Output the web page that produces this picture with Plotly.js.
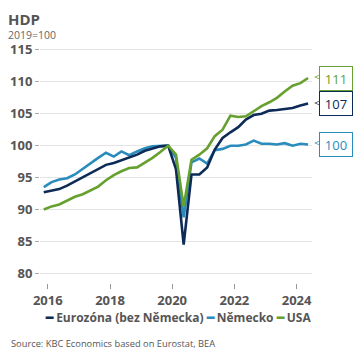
<!DOCTYPE html>
<html>
<head>
<meta charset="utf-8">
<script src="https://cdn.plot.ly/plotly-3.0.1.min.js"></script>
<style>
html,body{margin:0;padding:0;background:#fff;}
#chart{width:360px;height:360px;}
</style>
</head>
<body>
<div id="chart"></div>
<script>
// Quarters 2015Q4 .. 2024Q2
const quarters = ["2015Q4",
  "2016Q1","2016Q2","2016Q3","2016Q4",
  "2017Q1","2017Q2","2017Q3","2017Q4",
  "2018Q1","2018Q2","2018Q3","2018Q4",
  "2019Q1","2019Q2","2019Q3","2019Q4",
  "2020Q1","2020Q2","2020Q3","2020Q4",
  "2021Q1","2021Q2","2021Q3","2021Q4",
  "2022Q1","2022Q2","2022Q3","2022Q4",
  "2023Q1","2023Q2","2023Q3","2023Q4",
  "2024Q1","2024Q2"];

const eurozone = [92.7, 93.0, 93.2, 93.75, 94.4, 95.1, 95.7, 96.4, 97.0, 97.3, 97.7, 98.1, 98.6, 99.2, 99.6, 99.9, 100.0,
  96.3, 84.5, 95.5, 95.5, 96.6, 99.4, 101.2, 102.1, 102.9, 104.1, 104.8, 105.0, 105.5, 105.6, 105.8, 105.9, 106.3, 106.6];
const germany = [93.5, 94.3, 94.7, 94.9, 95.5, 96.4, 97.3, 98.1, 98.9, 98.3, 99.1, 98.5, 99.1, 99.6, 99.9, 100.0, 100.0,
  98.1, 88.8, 97.4, 98.0, 97.2, 99.3, 99.5, 100.0, 100.0, 100.2, 100.8, 100.3, 100.3, 100.2, 100.4, 100.0, 100.3, 100.2];
const usa = [90.0, 90.5, 90.8, 91.4, 92.0, 92.4, 93.0, 93.6, 94.6, 95.4, 96.0, 96.5, 96.6, 97.3, 98.1, 99.0, 100.0,
  98.6, 90.5, 97.8, 98.6, 99.6, 101.5, 102.5, 104.7, 104.5, 104.6, 105.4, 106.2, 106.8, 107.5, 108.5, 109.4, 109.8, 110.6];

const seriesNames = ["Eurozóna (bez Německa)", "Německo", "USA"];
const yTicks = [80, 85, 90, 95, 100, 105, 110, 115];
const xTicks = ["2016-01-01", "2018-01-01", "2020-01-01", "2022-01-01", "2024-01-01"];
const xTickText = ["2016", "2018", "2020", "2022", "2024"];

const colors = ["#0d2b57", "#2a8bbd", "#66a02e"];
const FONT = "'Open Sans', 'Noto Sans', sans-serif";

// mid-quarter date
const dates = quarters.map(q => {
  const y = q.slice(0, 4), n = +q.slice(5);
  const m = (n - 1) * 3 + 2;
  return y + "-" + String(m).padStart(2, "0") + "-15";
});

const allSeries = [eurozone, germany, usa];
const traces = allSeries.map((s, i) => ({
  x: dates, y: s, type: "scatter", mode: "lines", name: seriesNames[i],
  line: {color: colors[i], width: 2.6}, hoverinfo: "skip"
}));
const order = [1, 0, 2];
const data = order.map(i => traces[i]);

const annotations = [];
// end labels (callouts)
allSeries.forEach((s, i) => {
  const last = s[s.length - 1];
  annotations.push({
    x: dates[dates.length - 1], y: last, xref: "x", yref: "y",
    text: "<", showarrow: false,
    xanchor: "left", yanchor: "middle", xshift: 3, yshift: 1,
    font: {family: "DejaVu Sans", size: 15, color: colors[i], weight: 300}
  });
  annotations.push({
    x: dates[dates.length - 1], y: last, xref: "x", yref: "y",
    text: String(Math.round(last)), showarrow: false,
    xanchor: "left", yanchor: "middle", xshift: 11,
    font: {family: FONT, size: 13, color: colors[i]},
    bgcolor: "#ffffff", bordercolor: colors[i], borderwidth: 1, borderpad: 2,
    width: 28, height: 19
  });
});

const px = (xp, yp) => ({xref: "paper", yref: "paper", x: 0, y: 1, xanchor: "left", yanchor: "top",
  xshift: xp - 40, yshift: 48 - yp, showarrow: false});

annotations.push(Object.assign(px(6, 7), {text: "<b>HDP</b>",
  font: {family: FONT, size: 15, color: "#555555"}}));
annotations.push(Object.assign(px(6, 26), {text: "2019=100",
  font: {family: FONT, size: 10.5, color: "#666666"}}));

const dash = c => `<span style="color:${c}"><b>━</b></span>`;
const legendText = seriesNames.map((n, i) => dash(colors[i]) + " <b>" + n + "</b>").join(" ");
annotations.push({xref: "paper", yref: "paper", x: 0.5, y: 0, xanchor: "center", yanchor: "middle",
  yshift: -(317 - 283), xshift: 2,
  text: legendText, showarrow: false, font: {family: FONT, size: 12, color: "#555555"}});
annotations.push({xref: "paper", yref: "paper", x: 0, y: 0, xanchor: "left", yanchor: "middle",
  yshift: -(343 - 283), xshift: -31,
  text: "Source: KBC Economics based on Eurostat, BEA", showarrow: false,
  font: {family: FONT, size: 9.3, color: "#555555"}});

const layout = {
  width: 360, height: 360,
  margin: {l: 40, r: 48, t: 48, b: 77},
  paper_bgcolor: "#ffffff", plot_bgcolor: "#ffffff",
  showlegend: false,
  font: {family: FONT, color: "#555555"},
  xaxis: {
    type: "date", range: ["2015-10-02", "2024-06-30"],
    tickvals: xTicks, ticktext: xTickText,
    showgrid: false, zeroline: false, showline: false,
    ticks: "outside", ticklen: 5, tickcolor: "#999999", tickwidth: 1,
    tickfont: {family: FONT, size: 13, color: "#555555", weight: 700}
  },
  yaxis: {
    range: [78.5, 115.3], tickvals: yTicks,
    showgrid: true, gridcolor: "#e4e4e4", gridwidth: 1,
    zeroline: false, showline: false,
    ticks: "outside", ticklen: 4, tickcolor: "#aaaaaa", tickwidth: 1,
    tickfont: {family: FONT, size: 13, color: "#555555", weight: 700}
  },
  annotations: annotations
};

Plotly.newPlot("chart", data, layout, {displayModeBar: false, staticPlot: true});
</script>
</body>
</html>
